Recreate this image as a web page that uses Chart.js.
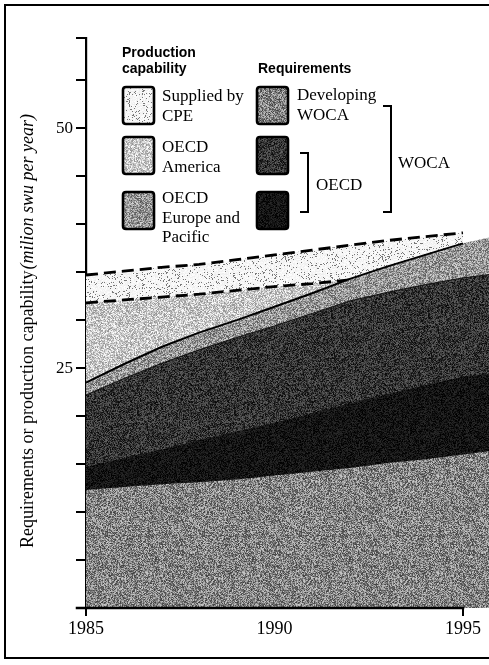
<!DOCTYPE html>
<html>
<head>
<meta charset="utf-8">
<script src="https://cdn.jsdelivr.net/npm/chart.js@4.4.0/dist/chart.umd.min.js"></script>
<style>
  html, body { margin: 0; padding: 0; background: #fff; }
  canvas { display: block; }
</style>
</head>
<body>
<canvas id="c" width="489" height="665"></canvas>
<script>
// Years on the horizontal axis
const years = [1985, 1986, 1987, 1988, 1989, 1990, 1991, 1992, 1993, 1994, 1995, 1996];

// Cumulative top of each band, million SWU per year
const developingWocaTop = [12.3, 12.6, 12.9, 13.1, 13.4, 13.8, 14.2, 14.6, 15.1, 15.5, 16.0, 16.5];
const oecdLowerTop      = [14.7, 15.6, 16.5, 17.5, 18.4, 19.3, 20.3, 21.3, 22.3, 23.2, 24.1, 24.5];
const oecdUpperTop      = [22.2, 23.9, 25.5, 26.9, 28.2, 29.4, 30.7, 32.0, 32.9, 33.7, 34.4, 34.9];
const europePacificCap  = [23.5, 25.4, 27.2, 28.7, 30.0, 31.4, 32.8, 34.3, 35.6, 36.8, 38.0, 38.9];
const americaCap        = [31.8, 32.1, 32.4, 32.7, 33.1, 33.5, 33.8, 34.2, 34.6, 35.0, 35.5];
const cpeCap            = [34.7, 35.1, 35.5, 35.8, 36.3, 36.8, 37.3, 37.8, 38.3, 38.7, 39.1];

// Axis ticks
const xTickValues = [1985, 1990, 1995];
const xTickMarked = [1985, 1995];
const yTickValues = [0, 5, 10, 15, 20, 25, 30, 35, 40, 45, 50, 55, 59.4];
const yTickLabels = [25, 50];

// Legend text
const groupHeadings = [['Production', 'capability'], ['Requirements']];
const productionLabels = [['Supplied by', 'CPE'], ['OECD', 'America'], ['OECD', 'Europe and', 'Pacific']];
const requirementLabels = [['Developing', 'WOCA'], [], []];
const bracketLabels = ['OECD', 'WOCA'];
const yTitleUpright = 'Requirements or production capability';
const yTitleItalic = '(milion swu per year)';

const canvas = document.getElementById('c');
const ctx = canvas.getContext('2d');

// Deterministic grain textures (printed halftone look)
function prng(seed) {
  let a = seed >>> 0;
  return function () {
    a = (a + 0x6D2B79F5) >>> 0;
    let t = a;
    t = Math.imul(t ^ (t >>> 15), t | 1);
    t ^= t + Math.imul(t ^ (t >>> 7), t | 61);
    return ((t ^ (t >>> 14)) >>> 0) / 4294967296;
  };
}
function grain(mean, amp, seed, dotDensity, dotInk) {
  const size = 97;
  const off = document.createElement('canvas');
  off.width = size; off.height = size;
  const g = off.getContext('2d');
  const img = g.createImageData(size, size);
  const r = prng(seed);
  for (let i = 0; i < size * size; i++) {
    let v = mean + (r() - 0.5) * 2 * amp;
    if (dotDensity && r() < dotDensity) v = dotInk;
    v = Math.max(0, Math.min(255, Math.round(v)));
    img.data[i * 4] = v; img.data[i * 4 + 1] = v; img.data[i * 4 + 2] = v; img.data[i * 4 + 3] = 255;
  }
  g.putImageData(img, 0, 0);
  return ctx.createPattern(off, 'repeat');
}
const tex = {
  cpe: grain(246, 8, 11, 0.1, 120),
  america: grain(200, 55, 23),
  europe: grain(150, 65, 37),
  developing: grain(132, 70, 41),
  oecdUpper: grain(52, 45, 53),
  oecdLower: grain(20, 22, 67)
};

const pts = arr => arr.map((v, i) => ({ x: years[i], y: v }));
const SERIF = '"Liberation Serif", "Times New Roman", serif';
const SANS = '"Liberation Sans", Arial, sans-serif';

// Frame, x axis line, rotated axis title and the legend panel
const decorations = {
  id: 'decorations',
  afterDraw(chart) {
    const c = chart.ctx;
    const xs = chart.scales.x, ys = chart.scales.y;
    c.save();
    c.strokeStyle = '#000';
    c.lineCap = 'square';

    // frame
    c.lineWidth = 2;
    c.beginPath();
    c.moveTo(489, 5); c.lineTo(5, 5); c.lineTo(5, 658); c.lineTo(489, 658);
    c.stroke();

    // x axis line ends at the last marked year
    const y0 = ys.getPixelForValue(0);
    c.lineWidth = 2.5;
    c.beginPath();
    c.moveTo(xs.getPixelForValue(xTickMarked[0]) - 9, y0);
    c.lineTo(xs.getPixelForValue(xTickMarked[xTickMarked.length - 1]), y0);
    c.stroke();

    // y title: upright part then italic part, reading upward
    c.fillStyle = '#000';
    c.translate(33, 548);
    c.rotate(-Math.PI / 2);
    c.textBaseline = 'alphabetic';
    c.textAlign = 'left';
    c.font = '18px ' + SERIF;
    c.fillText(yTitleUpright, 0, 0);
    const w1 = c.measureText(yTitleUpright).width;
    c.font = 'italic 18px ' + SERIF;
    c.fillText(yTitleItalic, w1 + 1, 0);
    c.setTransform(1, 0, 0, 1, 0, 0);

    // legend headings
    c.font = 'bold 14px ' + SANS;
    c.fillText(groupHeadings[0][0], 122, 57);
    c.fillText(groupHeadings[0][1], 122, 73);
    c.fillText(groupHeadings[1][0], 258, 73);

    const rowTops = [87, 137, 192];
    const rowBase = [101, 152, 203];
    const prodTex = [tex.cpe, tex.america, tex.europe];
    const reqTex = [tex.developing, tex.oecdUpper, tex.oecdLower];

    function box(x, y, pat) {
      const w = 31, h = 37, r = 3;
      c.beginPath();
      c.moveTo(x + r, y); c.lineTo(x + w - r, y); c.quadraticCurveTo(x + w, y, x + w, y + r);
      c.lineTo(x + w, y + h - r); c.quadraticCurveTo(x + w, y + h, x + w - r, y + h);
      c.lineTo(x + r, y + h); c.quadraticCurveTo(x, y + h, x, y + h - r);
      c.lineTo(x, y + r); c.quadraticCurveTo(x, y, x + r, y);
      c.closePath();
      c.fillStyle = pat; c.fill();
      c.lineWidth = 2.6; c.strokeStyle = '#000'; c.stroke();
    }

    c.font = '17px ' + SERIF;
    for (let i = 0; i < 3; i++) {
      box(123, rowTops[i], prodTex[i]);
      box(257, rowTops[i], reqTex[i]);
      c.fillStyle = '#000';
      productionLabels[i].forEach((t, k) => c.fillText(t, 162, rowBase[i] + k * 19.5));
      requirementLabels[i].forEach((t, k) => c.fillText(t, 297, rowBase[i] - 1 + k * 19.5));
    }

    // brackets grouping requirement boxes
    c.lineWidth = 2;
    c.strokeStyle = '#000';
    c.lineCap = 'butt';
    function bracket(x, top, bottom) {
      c.beginPath();
      c.moveTo(x - 8, top); c.lineTo(x, top); c.lineTo(x, bottom); c.lineTo(x - 8, bottom);
      c.stroke();
    }
    bracket(308, 153, 212);
    bracket(391, 106, 212);
    c.fillText(bracketLabels[0], 316, 190);
    c.fillText(bracketLabels[1], 398, 168);

    c.restore();
  }
};

new Chart(ctx, {
  type: 'line',
  data: {
    datasets: [
      { label: 'Developing WOCA', data: pts(developingWocaTop), fill: 'origin',
        backgroundColor: tex.developing, borderWidth: 0 },
      { label: 'OECD (lower)', data: pts(oecdLowerTop), fill: 'origin',
        backgroundColor: tex.oecdLower, borderWidth: 0 },
      { label: 'OECD (upper)', data: pts(oecdUpperTop), fill: 'origin',
        backgroundColor: tex.oecdUpper, borderWidth: 1, borderColor: '#111' },
      { label: 'OECD Europe and Pacific', data: pts(europePacificCap), fill: 'origin',
        backgroundColor: tex.europe, borderWidth: 2, borderColor: '#000',
        segment: { borderColor: s => s.p1.parsed.x > 1995 ? 'rgba(0,0,0,0)' : '#000' } },
      { label: 'OECD America', data: pts(americaCap), fill: 'origin',
        backgroundColor: tex.america, borderWidth: 2.8, borderColor: '#000', borderDash: [12, 6] },
      { label: 'Supplied by CPE', data: pts(cpeCap), fill: 'origin',
        backgroundColor: tex.cpe, borderWidth: 2.8, borderColor: '#000', borderDash: [12, 6] }
    ]
  },
  options: {
    responsive: false,
    animation: false,
    devicePixelRatio: 1,
    layout: { padding: { top: 38, left: 0, right: 0, bottom: 0 } },
    elements: { point: { radius: 0 }, line: { tension: 0 } },
    plugins: { legend: { display: false }, tooltip: { enabled: false } },
    scales: {
      x: {
        type: 'linear', min: 1985, max: 1995.69,
        afterBuildTicks: s => { s.ticks = xTickValues.map(v => ({ value: v })); },
        afterFit: s => { s.height = 57; },
        ticks: { color: '#000', font: { family: SERIF, size: 18 }, padding: 2,
                 maxRotation: 0, autoSkip: false, callback: v => String(v) },
        grid: { drawOnChartArea: false, tickLength: 8, lineWidth: 2,
                color: g => (g.tick && xTickMarked.includes(g.tick.value)) ? '#000' : 'rgba(0,0,0,0)' },
        border: { display: false }
      },
      y: {
        min: 0, max: 59.4,
        afterBuildTicks: s => { s.ticks = yTickValues.map(v => ({ value: v })); },
        afterFit: s => { s.width = 86; },
        ticks: { color: '#000', font: { family: SERIF, size: 17 }, padding: 3,
                 callback: v => yTickLabels.includes(v) ? String(v) : '' },
        grid: { drawOnChartArea: false, tickLength: 10, lineWidth: 2, color: '#000' },
        border: { display: true, width: 2.2, color: '#000' }
      }
    }
  },
  plugins: [decorations]
});
</script>
</body>
</html>
